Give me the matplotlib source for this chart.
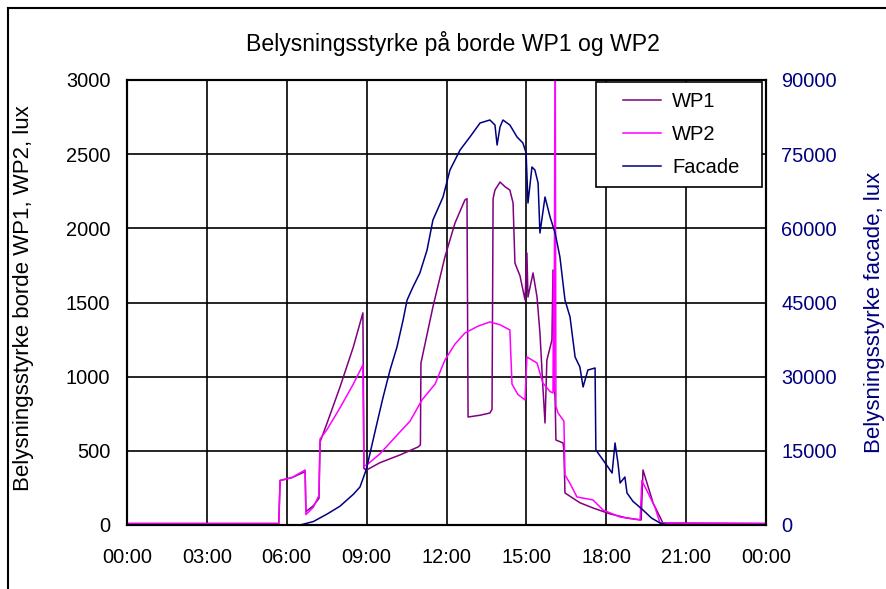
#!/usr/bin/env python3
#
# Belysningsstyrke paa borde WP1/WP2 og facade over et doegn
#

import matplotlib
matplotlib.use('Agg')
import matplotlib.pyplot as plt
from matplotlib.lines import Line2D
from matplotlib.legend_handler import HandlerLine2D

plt.rcParams['font.family'] = ['Liberation Sans', 'DejaVu Sans']

# time of day in hours
wp1_t = [0.0, 5.70, 5.75, 6.20, 6.69, 6.72, 7.00, 7.21, 7.25, 7.50, 8.00, 8.50, 8.86, 8.90,
         9.00, 9.50, 10.25, 10.93, 11.02, 11.04, 11.49, 11.94, 12.32, 12.69, 12.77, 12.81,
         13.26, 13.63, 13.71, 13.75, 13.82, 14.01, 14.20, 14.38, 14.50, 14.57, 14.76, 14.95,
         15.02, 15.06, 15.25, 15.40, 15.51, 15.62, 15.70, 15.77, 15.96, 16.00, 16.04, 16.08,
         16.11, 16.38, 16.41, 16.45, 17.01, 17.50, 18.14, 18.78, 19.31, 19.38, 19.76, 20.13,
         24.0]
wp1 = [10, 10, 300, 320, 360, 90, 130, 180, 560, 680, 930, 1200, 1430, 380,
       371, 420, 472, 526, 540, 1092, 1470, 1807, 2036, 2191, 2200, 728,
       740, 755, 780, 2200, 2258, 2312, 2280, 2258, 2171, 1766, 1680, 1517,
       1834, 1537, 1699, 1537, 1294, 930, 688, 1112, 1247, 1719, 1000, 843,
       573, 553, 500, 216, 150, 115, 75, 47, 34, 371, 148, 13,
       10]

wp2_t = [0.0, 5.70, 5.75, 6.20, 6.69, 6.72, 7.00, 7.21, 7.25, 7.50, 8.00, 8.50, 8.86, 8.90,
         9.00, 9.50, 10.25, 10.63, 11.08, 11.57, 11.94, 12.32, 12.69, 13.18, 13.63, 14.01,
         14.38, 14.46, 14.68, 14.95, 15.02, 15.40, 15.62, 15.89, 16.00, 16.02, 16.04, 16.08,
         16.11, 16.19, 16.38, 16.41, 16.45, 16.64, 16.90, 17.50, 17.88, 18.52, 19.27, 19.34,
         19.46, 19.83, 20.02, 24.0]
wp2 = [10, 10, 300, 320, 371, 70, 120, 200, 580, 640, 790, 950, 1079, 400,
       404, 480, 627, 700, 843, 950, 1112, 1220, 1294, 1340, 1369, 1350,
       1315, 950, 880, 843, 1133, 1092, 957, 900, 890, 1700, 900, 3500,
       800, 755, 708, 700, 337, 280, 189, 169, 101, 54, 34, 300,
       256, 120, 13, 10]

facade_t = [0.0, 6.50, 7.00, 7.51, 8.00, 8.26, 8.50, 8.75, 8.94, 9.01, 9.13, 9.39, 9.62, 9.88,
            10.14, 10.37, 10.52, 10.74, 11.00, 11.27, 11.49, 11.87, 12.13, 12.51, 12.88,
            13.26, 13.63, 13.82, 13.90, 14.01, 14.12, 14.38, 14.65, 14.87, 14.99, 15.06,
            15.21, 15.32, 15.44, 15.51, 15.70, 15.89, 16.08, 16.26, 16.45, 16.64, 16.83,
            17.01, 17.13, 17.31, 17.58, 17.61, 17.88, 18.22, 18.33, 18.44, 18.52, 18.70,
            18.78, 19.00, 19.38, 19.70, 20.02, 20.28, 24.0]
facade = [0, 0, 700, 2200, 3800, 5056, 6200, 7685, 10517, 11730, 14562, 20629, 25888, 31348,
          36000, 41461, 45506, 48135, 50966, 55618, 61685, 66337, 71798, 75843, 78472,
          81303, 81910, 80899, 76854, 80494, 81910, 80899, 78472, 77258, 75236, 65124,
          72405, 71798, 69169, 59056, 66337, 62292, 59056, 54202, 45506, 42067, 33978,
          31955, 27910, 31348, 31753, 15169, 13146, 10517, 16584, 12539, 8494, 9708,
          6472, 4800, 3034, 1400, 404, 0, 0]

xticks = [0, 3, 6, 9, 12, 15, 18, 21, 24]
xticklabels = ['00:00', '03:00', '06:00', '09:00', '12:00', '15:00', '18:00', '21:00', '00:00']

fs_tick = 14.4
fs_label = 16
fs_leg = 14.5

fig = plt.figure(figsize=(8.86, 5.89), dpi=100)
ax = fig.add_axes([127/886, 1 - 525/589, 639/886, 445/589])
ax2 = ax.twinx()

l1, = ax.plot(wp1_t, wp1, color='#800080', lw=1.1, label='WP1')
l2, = ax.plot(wp2_t, wp2, color='#FF00FF', lw=1.1, label='WP2')
l3, = ax2.plot(facade_t, facade, color='#000080', lw=1.1, label='Facade')

ax.set_xlim(0, 24)
ax.set_ylim(0, 3000)
ax2.set_ylim(0, 90000)
ax.set_xticks(xticks)
ax.set_xticklabels(xticklabels)
ax.set_yticks(range(0, 3001, 500))
ax2.set_yticks(range(0, 90001, 15000))
ax.grid(color='black', linestyle='-', linewidth=1.2)
ax.set_axisbelow(True)

ax.tick_params(axis='x', length=0, pad=16.5, labelsize=fs_tick)
ax.tick_params(axis='y', length=0, pad=12, labelsize=fs_tick)
ax2.tick_params(axis='y', length=0, pad=11, labelsize=fs_tick, labelcolor='#000080')
for a in (ax, ax2):
	for s in a.spines.values():
		s.set_linewidth(1.5)

ax.set_ylabel('Belysningsstyrke borde WP1, WP2, lux', fontsize=fs_label)
ax.yaxis.set_label_coords((34 - 127) / 639, (525 - 298) / 445)
ax2.set_ylabel('Belysningsstyrke facade, lux', fontsize=fs_label, color='#000080')
ax2.yaxis.set_label_coords((864 - 127) / 639, (525 - 312) / 445)

fig.text(453/886, 1 - 43/589, 'Belysningsstyrke på borde WP1 og WP2',
         ha='center', va='center', fontsize=16.6)

# legend box spans the anchor box; handle line pushed in from the left edge
x0 = (596 - 127) / 639
x1 = (762 - 127) / 639
ytop = (525 - 82) / 445
leg = ax2.legend(handles=[l1, l2, l3], loc='upper left',
                 bbox_to_anchor=(x0, ytop - 0.3, x1 - x0, 0.3), mode='expand',
                 borderaxespad=0, fontsize=fs_leg, fancybox=False, framealpha=1,
                 edgecolor='black', handlelength=2.73, labelspacing=0.7,
                 borderpad=0.5, handletextpad=0.55,
                 handler_map={Line2D: HandlerLine2D(xpad=0.85)})
leg.get_frame().set_linewidth(1.2)

# chart area frame (only top and left edges are inside the picture)
fig.add_artist(Line2D([8/886, 1], [1 - 8/589, 1 - 8/589], color='black', lw=1.5))
fig.add_artist(Line2D([8/886, 8/886], [0, 1 - 8/589], color='black', lw=1.5))

plt.savefig('out.png', dpi=100)
